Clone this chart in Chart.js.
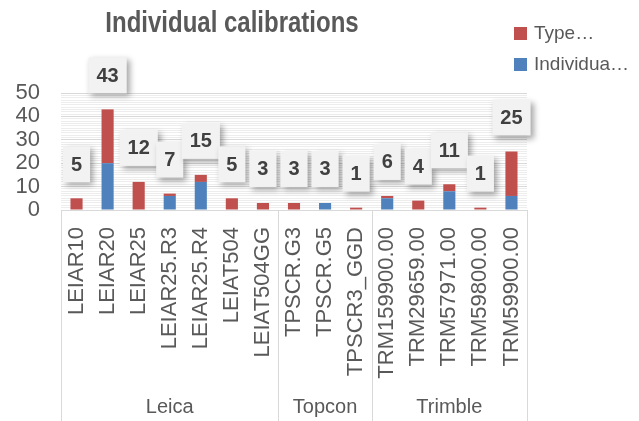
<!DOCTYPE html>
<html>
<head>
<meta charset="utf-8">
<script src="https://cdn.jsdelivr.net/npm/chart.js@4.4.1/dist/chart.umd.min.js"></script>
<style>
  html, body { margin: 0; padding: 0; background: #fff; }
  #wrap { width: 639px; height: 421px; }
</style>
</head>
<body>
<div id="wrap"><canvas id="myChart" width="639" height="421"></canvas></div>
<script>
// chart data
const categories = ['LEIAR10', 'LEIAR20', 'LEIAR25', 'LEIAR25.R3', 'LEIAR25.R4', 'LEIAT504', 'LEIAT504GG',
  'TPSCR.G3', 'TPSCR.G5', 'TPSCR3_GGD',
  'TRM159900.00', 'TRM29659.00', 'TRM57971.00', 'TRM59800.00', 'TRM59900.00'];
const groupNames = ['Leica', 'Topcon', 'Trimble'];
const groupSizes = [7, 3, 5];
const individualValues = [0, 20, 0, 6, 12, 0, 0, 0, 3, 0, 5, 0, 8, 0, 6];
const typeValues = [5, 23, 12, 1, 3, 5, 3, 3, 0, 1, 1, 4, 3, 1, 19];
const seriesNames = ['Type…', 'Individua…'];
const yTicks = [0, 10, 20, 30, 40, 50];

const totals = categories.map((c, i) => individualValues[i] + typeValues[i]);

const RED = '#C0504D';
const BLUE = '#4F81BD';
const GREY = '#595959';
const FONT = '"Liberation Sans", Arial, sans-serif';

// title, legend, value boxes and the two-level category axis
const extras = {
  id: 'extras',
  afterDatasetsDraw(chart) {
    const ctx = chart.ctx;
    const x = chart.scales.x, y = chart.scales.y;
    ctx.save();
    ctx.font = 'bold 20px ' + FONT;
    for (let i = 0; i < totals.length; i++) {
      const cx = x.getPixelForValue(i);
      const top = y.getPixelForValue(totals[i]);
      const txt = String(totals[i]);
      const w = ctx.measureText(txt).width + 16;
      const h = 36;
      const bx = cx - w / 2, by = top - 16 - h;
      ctx.save();
      ctx.shadowColor = 'rgba(0,0,0,0.35)';
      ctx.shadowBlur = 6;
      ctx.shadowOffsetX = 3;
      ctx.shadowOffsetY = 3;
      ctx.fillStyle = '#f2f2f2';
      ctx.fillRect(bx, by, w, h);
      ctx.restore();
      ctx.fillStyle = '#404040';
      ctx.textAlign = 'center';
      ctx.textBaseline = 'middle';
      ctx.fillText(txt, cx, by + h / 2 + 1);
    }
    ctx.restore();
  },
  afterDraw(chart) {
    const ctx = chart.ctx;
    const area = chart.chartArea;
    ctx.save();
    // group separators
    ctx.strokeStyle = '#d9d9d9';
    ctx.lineWidth = 1;
    const step = (area.right - area.left) / categories.length;
    let start = 0;
    const edges = [area.left];
    groupSizes.forEach(n => { start += n; edges.push(area.left + start * step); });
    edges.forEach(ex => {
      const px = Math.round(ex) + 0.5;
      ctx.beginPath();
      ctx.moveTo(px, area.bottom);
      ctx.lineTo(px, chart.height);
      ctx.stroke();
    });
    ctx.fillStyle = GREY;
    ctx.font = '20px ' + FONT;
    ctx.textAlign = 'center';
    ctx.textBaseline = 'middle';
    groupNames.forEach((g, i) => {
      ctx.fillText(g, (edges[i] + edges[i + 1]) / 2, 407);
    });

    // title (squeezed a little, the original font is narrower)
    ctx.save();
    ctx.translate(232, 24);
    ctx.scale(0.8, 1);
    ctx.font = 'bold 30px ' + FONT;
    ctx.fillText('Individual calibrations', 0, 0);
    ctx.restore();

    // legend
    ctx.font = '19px ' + FONT;
    ctx.textAlign = 'left';
    const legendColors = [RED, BLUE];
    seriesNames.forEach((s, i) => {
      const ly = 33 + i * 31;
      ctx.fillStyle = legendColors[i];
      ctx.fillRect(514, ly - 6, 13, 13);
      ctx.fillStyle = GREY;
      ctx.fillText(s, 534, ly + 1);
    });
    ctx.restore();
  }
};

var ctx = document.getElementById('myChart').getContext('2d');

var myChart = new Chart(ctx, {
  type: 'bar',
  data: {
    labels: categories,
    datasets: [
      {
        label: seriesNames[1],
        data: individualValues,
        backgroundColor: BLUE,
        barPercentage: 0.39,
        categoryPercentage: 1.0
      },
      {
        label: seriesNames[0],
        data: typeValues,
        backgroundColor: RED,
        barPercentage: 0.39,
        categoryPercentage: 1.0
      }
    ]
  },
  plugins: [extras],
  options: {
    responsive: false,
    animation: false,
    layout: { padding: { left: 0, top: 93, right: 112, bottom: 0 } },
    plugins: {
      legend: { display: false },
      title: { display: false },
      tooltip: { enabled: false }
    },
    scales: {
      x: {
        stacked: true,
        grid: { display: false },
        border: { display: true, color: '#d9d9d9' },
        ticks: {
          color: GREY,
          font: { family: FONT, size: 22 },
          minRotation: 90,
          maxRotation: 90,
          autoSkip: false,
          padding: 9
        },
        afterFit(scale) { scale.height = 211; }
      },
      y: {
        stacked: true,
        min: 0,
        max: 50,
        border: { display: false },
        grid: {
          drawTicks: false,
          color: c => (yTicks.includes(c.tick.value) ? '#d9d9d9' : '#ededed')
        },
        ticks: {
          stepSize: 1,
          autoSkip: false,
          padding: 21,
          color: GREY,
          font: { family: FONT, size: 22 },
          callback: v => (yTicks.includes(v) ? String(v) : '')
        },
        afterFit(scale) { scale.width = 61; }
      }
    }
  }
});
</script>
</body>
</html>
